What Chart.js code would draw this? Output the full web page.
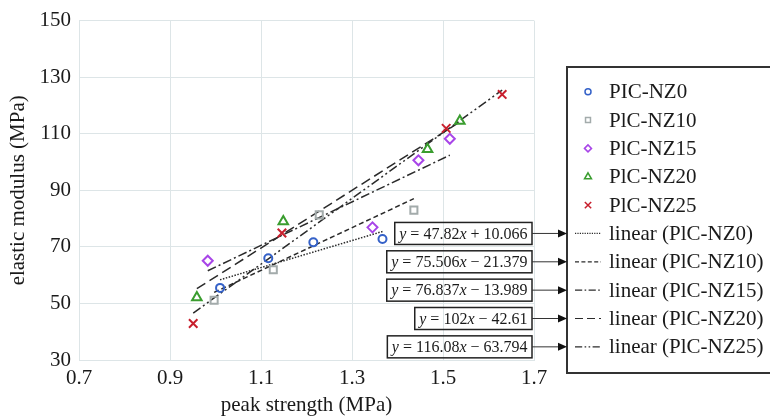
<!DOCTYPE html>
<html>
<head>
<meta charset="utf-8">
<script src="https://cdn.jsdelivr.net/npm/chart.js@4.4.1/dist/chart.umd.min.js"></script>
<style>
  html, body { margin: 0; padding: 0; background: #fff; }
</style>
</head>
<body>
<canvas id="modulusChart" width="770" height="416"></canvas>
<script>
// peak strength (MPa) vs elastic modulus (MPa) per mix
const seriesNames = ['PIC-NZ0', 'PlC-NZ10', 'PlC-NZ15', 'PlC-NZ20', 'PlC-NZ25'];
const trendNames = ['linear (PlC-NZ0)', 'linear (PlC-NZ10)', 'linear (PlC-NZ15)', 'linear (PlC-NZ20)', 'linear (PlC-NZ25)'];

const strengthNZ0 = [1.010, 1.116, 1.215, 1.367];
const modulusNZ0 = [55.5, 66.0, 71.6, 72.8];
const strengthNZ10 = [0.997, 1.127, 1.228, 1.436];
const modulusNZ10 = [51.1, 61.9, 81.3, 83.0];
const strengthNZ15 = [0.983, 1.345, 1.446, 1.515];
const modulusNZ15 = [65.1, 76.9, 100.6, 108.2];
const strengthNZ20 = [0.959, 1.149, 1.466, 1.537];
const modulusNZ20 = [52.1, 79.0, 104.5, 114.5];
const strengthNZ25 = [0.951, 1.146, 1.507, 1.630];
const modulusNZ25 = [42.9, 74.9, 111.9, 123.9];

// fitted lines y = slope * x + intercept
const slopes = [47.82, 75.506, 76.837, 102, 116.08];
const intercepts = [10.066, -21.379, -13.989, -42.61, -63.794];

const xTicks = [0.7, 0.9, 1.1, 1.3, 1.5, 1.7];
const yTicks = [30, 50, 70, 90, 110, 130, 150];

const strengths = [strengthNZ0, strengthNZ10, strengthNZ15, strengthNZ20, strengthNZ25];
const moduli = [modulusNZ0, modulusNZ10, modulusNZ15, modulusNZ20, modulusNZ25];

const colors = ['#3461c8', '#a3abab', '#a845e8', '#3a9d2f', '#c8202e'];
const markers = ['circle', 'rect', 'rectRot', 'triangle', 'crossRot'];
const markerSize = [4, 5, 5, 5.5, 6];
const legendSize = [3, 3.5, 3.5, 4, 4.5];
const dashes = [[1.5, 1.5], [5, 3], [9, 3, 2, 3], [10, 5], [9, 3, 2, 3, 2, 3]];

const serif = 'Liberation Serif';
const ink = '#1a1a1a';
const gridColor = '#dde5e7';

const pointSets = seriesNames.map((name, i) => ({
    type: 'scatter',
    label: name,
    data: strengths[i].map((x, j) => ({ x: x, y: moduli[i][j] })),
    pointStyle: markers[i],
    pointRadius: markerSize[i],
    pointBorderWidth: 2,
    borderColor: colors[i],
    backgroundColor: 'rgba(0,0,0,0)',
    order: 1,
}));

const trendSets = trendNames.map((name, i) => {
    const lo = Math.min(...strengths[i]);
    const hi = Math.max(...strengths[i]);
    return {
        type: 'line',
        label: name,
        data: [lo, hi].map(x => ({ x: x, y: slopes[i] * x + intercepts[i] })),
        borderColor: '#2b2b2b',
        borderWidth: 1.5,
        borderDash: dashes[i],
        pointRadius: 0,
        fill: false,
        order: 2,
    };
});

function equationParts(a, b) {
    return [
        ['y', true],
        [' = ' + a, false],
        ['x', true],
        [(b < 0 ? ' \u2212 ' : ' + ') + Math.abs(b), false],
    ];
}

// legend box, equation labels and arrows on the right
const sideNotes = {
    id: 'sideNotes',
    afterDraw(chart) {
        const ctx = chart.ctx;
        const rowY = i => 91.7 + i * 28.35;
        ctx.save();

        ctx.strokeStyle = '#333';
        ctx.lineWidth = 2;
        ctx.strokeRect(567, 67, 260, 306);

        ctx.font = '21px "' + serif + '"';
        ctx.textBaseline = 'middle';
        ctx.fillStyle = ink;

        pointSets.forEach((d, i) => {
            const y = rowY(i);
            ctx.save();
            ctx.strokeStyle = d.borderColor;
            ctx.fillStyle = 'rgba(0,0,0,0)';
            ctx.lineWidth = 1.5;
            Chart.helpers.drawPoint(ctx, { pointStyle: d.pointStyle, radius: legendSize[i], borderWidth: 1.5, rotation: 0 }, 588, y);
            ctx.restore();
            ctx.fillText(d.label, 609, y + 1);
        });

        trendSets.forEach((d, i) => {
            const y = rowY(i + 5);
            ctx.save();
            ctx.strokeStyle = '#2b2b2b';
            ctx.lineWidth = 1.2;
            ctx.setLineDash(d.borderDash.map(v => v * 0.8));
            ctx.beginPath();
            ctx.moveTo(575, y);
            ctx.lineTo(601, y);
            ctx.stroke();
            ctx.restore();
            ctx.fillText(d.label, 609, y + 1);

            // equation box with arrow pointing to its legend row
            const parts = equationParts(slopes[i], intercepts[i]);
            const fonts = parts.map(p => (p[1] ? 'italic ' : '') + '16px "' + serif + '"');
            let w = 0;
            parts.forEach((p, k) => { ctx.font = fonts[k]; w += ctx.measureText(p[0]).width; });
            const right = 532;
            const left = right - w - 9;
            ctx.strokeStyle = '#222';
            ctx.lineWidth = 1.5;
            ctx.strokeRect(left, y - 11, right - left, 22);
            let tx = left + 4.5;
            parts.forEach((p, k) => {
                ctx.font = fonts[k];
                ctx.fillText(p[0], tx, y + 1);
                tx += ctx.measureText(p[0]).width;
            });
            ctx.font = '21px "' + serif + '"';

            ctx.strokeStyle = '#333';
            ctx.lineWidth = 1;
            ctx.beginPath();
            ctx.moveTo(right, y);
            ctx.lineTo(559, y);
            ctx.stroke();
            ctx.fillStyle = '#111';
            ctx.beginPath();
            ctx.moveTo(567, y);
            ctx.lineTo(558, y - 4);
            ctx.lineTo(558, y + 4);
            ctx.closePath();
            ctx.fill();
            ctx.fillStyle = ink;
        });

        ctx.restore();
    }
};

new Chart(document.getElementById('modulusChart'), {
    data: { datasets: [...pointSets, ...trendSets] },
    plugins: [sideNotes],
    options: {
        responsive: false,
        animation: false,
        devicePixelRatio: 1,
        layout: { padding: { left: 0, top: 19, right: 236, bottom: 0 } },
        plugins: {
            legend: { display: false },
            tooltip: { enabled: false },
        },
        scales: {
            x: {
                type: 'linear',
                min: xTicks[0],
                max: xTicks[xTicks.length - 1],
                afterBuildTicks: s => { s.ticks = xTicks.map(v => ({ value: v })); },
                afterFit: s => { s.height = 56; },
                ticks: {
                    callback: v => v.toFixed(1),
                    font: { family: serif, size: 21 },
                    color: ink,
                    padding: 6,
                    maxRotation: 0,
                },
                grid: { color: gridColor, drawTicks: false },
                border: { color: gridColor },
                title: {
                    display: true,
                    text: 'peak strength (MPa)',
                    font: { family: serif, size: 21, lineHeight: 1 },
                    color: ink,
                    padding: { top: 0, bottom: 0 },
                },
            },
            y: {
                type: 'linear',
                min: yTicks[0],
                max: yTicks[yTicks.length - 1],
                afterBuildTicks: s => { s.ticks = yTicks.map(v => ({ value: v })); },
                afterFit: s => { s.width = 79; },
                ticks: {
                    font: { family: serif, size: 21 },
                    color: ink,
                    padding: 8,
                },
                grid: { color: gridColor, drawTicks: false },
                border: { color: gridColor },
                title: {
                    display: true,
                    text: 'elastic modulus (MPa)',
                    font: { family: serif, size: 21, lineHeight: 1 },
                    color: ink,
                    padding: { top: 8, bottom: 0 },
                },
            },
        },
    },
});
</script>
</body>
</html>
